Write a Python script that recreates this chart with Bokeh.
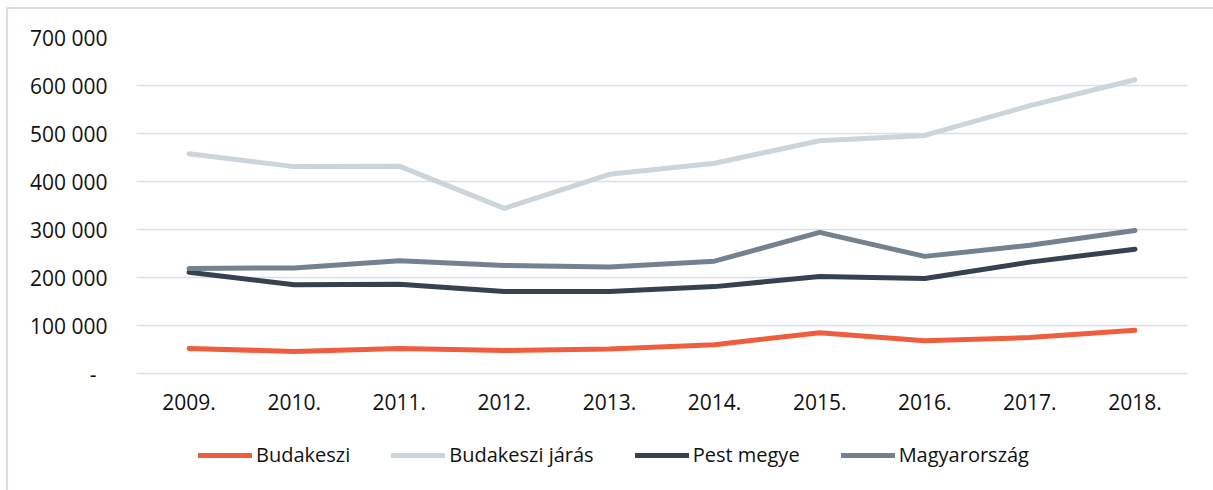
from bokeh.plotting import figure
from bokeh.models import FactorRange, Range1d, FixedTicker, CustomJSTickFormatter, Legend, LegendItem
from bokeh.embed import file_html
from bokeh.resources import INLINE

years = ["2009.", "2010.", "2011.", "2012.", "2013.", "2014.", "2015.", "2016.", "2017.", "2018."]
budakeszi = [52000, 46000, 52000, 48000, 51000, 60000, 85000, 68000, 75000, 90000]
budakeszi_jaras = [458000, 431000, 432000, 344000, 415000, 438000, 485000, 496000, 558000, 612000]
pest_megye = [211000, 185000, 186000, 171000, 171000, 181000, 202000, 198000, 232000, 259000]
magyarorszag = [219000, 220000, 235000, 225000, 222000, 234000, 294000, 244000, 267000, 298000]
series_names = ["Budakeszi", "Budakeszi járás", "Pest megye", "Magyarország"]
y_ticks = [0, 100000, 200000, 300000, 400000, 500000, 600000, 700000]

colors = ["#EE5E3E", "#CBD5DC", "#36424F", "#74828F"]
FONT = "Open Sans"
GRID = "#D9DFE9"

# frame extends below the zero line so the legend row (inside the frame) is not clipped
PX_PER_UNIT = 336 / 700000
y_start = -97 / PX_PER_UNIT

p = figure(width=1205, height=481, frame_width=1051, frame_height=433,
           x_range=FactorRange(*years, range_padding=0),
           y_range=Range1d(y_start, 700000), output_backend="svg", toolbar_location=None,
           min_border_left=128, min_border_right=26, min_border_top=28, min_border_bottom=20)
p.styles = {"position": "relative", "left": "6px", "top": "7px",
            "border-top": "2px solid #D6DEE9", "border-left": "2px solid #D6DEE9",
            "box-sizing": "border-box"}
p.outline_line_color = None
p.xgrid.grid_line_color = None
p.ygrid.grid_line_color = GRID
p.ygrid.grid_line_width = 1.5
p.ygrid.ticker = FixedTicker(ticks=y_ticks)

p.yaxis.ticker = FixedTicker(ticks=y_ticks)
p.yaxis.formatter = CustomJSTickFormatter(code="""
if (tick == 0) { return "-\u00a0\u00a0"; }
var s = Math.round(tick).toString();
return s.replace(/\\B(?=(\\d{3})+(?!\\d))/g, " ");
""")
for ax in (p.xaxis[0], p.yaxis[0]):
    ax.axis_line_color = None
    ax.major_tick_line_color = None
    ax.minor_tick_line_color = None
    ax.major_label_text_font = FONT
    ax.major_label_text_font_size = "21px"
    ax.major_label_text_color = "#111111"
p.yaxis.major_label_standoff = 23
p.xaxis.major_label_standoff = -83

items = []
for name, vals, c in zip(series_names, [budakeszi, budakeszi_jaras, pest_megye, magyarorszag], colors):
    r = p.line(years, vals, line_color=c, line_width=5, line_cap="round", line_join="round")
    items.append(LegendItem(label=name, renderers=[r]))

leg = Legend(items=items, orientation="horizontal", location=(62, 2),
             glyph_width=54, glyph_height=20, label_height=20, label_standoff=4, spacing=41,
             padding=0, margin=0, border_line_color=None, background_fill_alpha=0,
             label_text_font=FONT, label_text_font_size="20px", label_text_color="#111111")
p.add_layout(leg, "center")

open("out.html", "w").write(file_html(p, INLINE))
